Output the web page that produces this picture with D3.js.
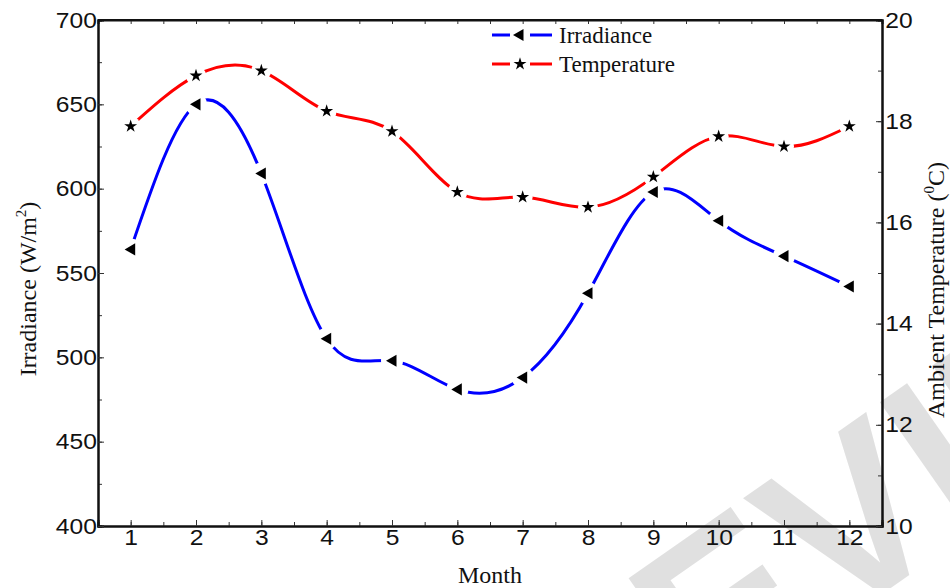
<!DOCTYPE html>
<html lang="en">
<head>
<meta charset="UTF-8">
<title>Irradiance and Temperature</title>
<script src="https://d3js.org/d3.v7.min.js"></script>
<style>
  body { margin: 0; background: #fff; }
  svg { display: block; }
</style>
</head>
<body>
<script>
  // data
  var months = [1, 2, 3, 4, 5, 6, 7, 8, 9, 10, 11, 12];
  var irradiance = [564, 650, 609, 511, 498, 481, 488, 538, 598, 581, 560, 542];
  var temperature = [17.9, 18.9, 19.0, 18.2, 17.8, 16.6, 16.5, 16.3, 16.9, 17.7, 17.5, 17.9];
  var irrTicks = [400, 450, 500, 550, 600, 650, 700];
  var tempTicks = [10, 12, 14, 16, 18, 20];

  var w = 950, h = 588;
  var pLeft = 98, pRight = 882, pTop = 20, pBottom = 526;
  var stretch = 'scale(1.12,1)';

  var svg = d3.select('body').append('svg').attr('width', w).attr('height', h);

  // watermark behind everything
  svg.append('text')
    .attr('transform', 'translate(445,900) rotate(-35)')
    .attr('font-family', 'Liberation Sans, Arial, sans-serif')
    .attr('font-weight', 'bold')
    .attr('font-size', 230)
    .attr('fill', '#e0e0e0')
    .text('PREVIEW');

  var x = d3.scaleLinear().domain([0.5, 12.5]).range([pLeft, pRight]);
  var y = d3.scaleLinear().domain([400, 700]).range([pBottom, pTop]);
  var y2 = d3.scaleLinear().domain([10, 20]).range([pBottom, pTop]);

  var halfMonths = d3.range(0.5, 12.51, 0.5);

  // minor ticks first (inward)
  var minorB = d3.axisBottom(x).tickValues(halfMonths).tickSize(-4).tickFormat('');
  var minorT = d3.axisTop(x).tickValues(halfMonths).tickSize(-4).tickFormat('');
  var minorL = d3.axisLeft(y).tickValues(d3.range(400, 701, 25)).tickSize(-4).tickFormat('');
  var minorR = d3.axisRight(y2).tickValues(d3.range(10, 20.01, 1)).tickSize(-4).tickFormat('');

  svg.append('g').attr('transform', 'translate(0,' + pBottom + ')').call(minorB);
  svg.append('g').attr('transform', 'translate(0,' + pTop + ')').call(minorT);
  svg.append('g').attr('transform', 'translate(' + pLeft + ',0)').call(minorL);
  svg.append('g').attr('transform', 'translate(' + pRight + ',0)').call(minorR);

  var gx = svg.append('g').attr('transform', 'translate(0,' + pBottom + ')')
    .call(d3.axisBottom(x).tickValues(months).tickSize(-6).tickPadding(3).tickFormat(d3.format('d')));
  var gl = svg.append('g').attr('transform', 'translate(' + pLeft + ',0)')
    .call(d3.axisLeft(y).tickValues(irrTicks).tickSize(-6).tickPadding(1));
  var gr = svg.append('g').attr('transform', 'translate(' + pRight + ',0)')
    .call(d3.axisRight(y2).tickValues(tempTicks).tickSize(-6).tickPadding(3));

  svg.selectAll('.domain').attr('stroke', '#111').attr('stroke-width', 2);
  svg.selectAll('.tick line').attr('stroke', '#333').attr('stroke-width', 1);

  [gx, gl, gr].forEach(function (g) {
    g.selectAll('text')
      .attr('font-family', 'Liberation Sans, Arial, sans-serif')
      .attr('font-size', 22)
      .attr('fill', '#111')
      .attr('transform', stretch);
  });

  // top frame line
  svg.append('line')
    .attr('x1', pLeft).attr('x2', pRight).attr('y1', pTop).attr('y2', pTop)
    .attr('stroke', '#111').attr('stroke-width', 2);

  var irrData = months.map(function (m, i) { return [m, irradiance[i]]; });
  var tmpData = months.map(function (m, i) { return [m, temperature[i]]; });

  var irrLine = d3.line().x(function (d) { return x(d[0]); }).y(function (d) { return y(d[1]); }).curve(d3.curveNatural);
  var tmpLine = d3.line().x(function (d) { return x(d[0]); }).y(function (d) { return y2(d[1]); }).curve(d3.curveNatural);

  svg.append('path').datum(irrData).attr('d', irrLine)
    .attr('fill', 'none').attr('stroke', '#0000ff').attr('stroke-width', 3);
  svg.append('path').datum(tmpData).attr('d', tmpLine)
    .attr('fill', 'none').attr('stroke', '#ff0000').attr('stroke-width', 3);

  // gaps round the symbols
  svg.selectAll('circle.gapI').data(irrData).enter().append('circle')
    .attr('cx', function (d) { return x(d[0]); }).attr('cy', function (d) { return y(d[1]); })
    .attr('r', 11).attr('fill', '#fff');
  svg.selectAll('circle.gapT').data(tmpData).enter().append('circle')
    .attr('cx', function (d) { return x(d[0]); }).attr('cy', function (d) { return y2(d[1]); })
    .attr('r', 10).attr('fill', '#fff');

  var tri = d3.symbol().type(d3.symbolTriangle).size(64);
  var star = d3.symbol().type(d3.symbolStar).size(52);

  svg.selectAll('path.tri').data(irrData).enter().append('path')
    .attr('d', tri)
    .attr('transform', function (d) { return 'translate(' + (x(d[0]) + 1) + ',' + y(d[1]) + ') rotate(-90)'; })
    .attr('fill', '#000');
  svg.selectAll('path.star').data(tmpData).enter().append('path')
    .attr('d', star)
    .attr('transform', function (d) { return 'translate(' + x(d[0]) + ',' + y2(d[1]) + ')'; })
    .attr('fill', '#000');

  // legend
  var legend = [
    { name: 'Irradiance', color: '#0000ff', sym: tri, rot: ' rotate(-90)' },
    { name: 'Temperature', color: '#ff0000', sym: star, rot: '' }
  ];
  legend.forEach(function (l, i) {
    var ly = 35 + i * 29;
    svg.append('line').attr('x1', 492).attr('x2', 510).attr('y1', ly).attr('y2', ly)
      .attr('stroke', l.color).attr('stroke-width', 3);
    svg.append('line').attr('x1', 530).attr('x2', 552).attr('y1', ly).attr('y2', ly)
      .attr('stroke', l.color).attr('stroke-width', 3);
    svg.append('path').attr('d', l.sym).attr('fill', '#000')
      .attr('transform', 'translate(520,' + ly + ')' + l.rot);
    svg.append('text').attr('x', 559).attr('y', ly + 8)
      .attr('font-family', 'Liberation Serif, Times New Roman, serif')
      .attr('font-size', 23).attr('fill', '#111')
      .text(l.name);
  });

  // axis titles
  svg.append('text').attr('x', 490).attr('y', 583)
    .attr('text-anchor', 'middle')
    .attr('font-family', 'Liberation Serif, Times New Roman, serif')
    .attr('font-size', 24).attr('fill', '#111')
    .text('Month');

  var yl = svg.append('text')
    .attr('transform', 'translate(36,289) rotate(-90)')
    .attr('text-anchor', 'middle')
    .attr('font-family', 'Liberation Serif, Times New Roman, serif')
    .attr('font-size', 24).attr('fill', '#111');
  yl.append('tspan').text('Irradiance (W/m');
  yl.append('tspan').attr('font-size', 15).attr('dy', -10).text('2');
  yl.append('tspan').attr('dy', 10).text(')');

  var yr = svg.append('text')
    .attr('transform', 'translate(944,290) rotate(-90)')
    .attr('text-anchor', 'middle')
    .attr('font-family', 'Liberation Serif, Times New Roman, serif')
    .attr('font-size', 24).attr('fill', '#111');
  yr.append('tspan').text('Ambient Temperature (');
  yr.append('tspan').attr('font-size', 15).attr('dy', -10).text('0');
  yr.append('tspan').attr('dy', 10).text('C)');
</script>
</body>
</html>
